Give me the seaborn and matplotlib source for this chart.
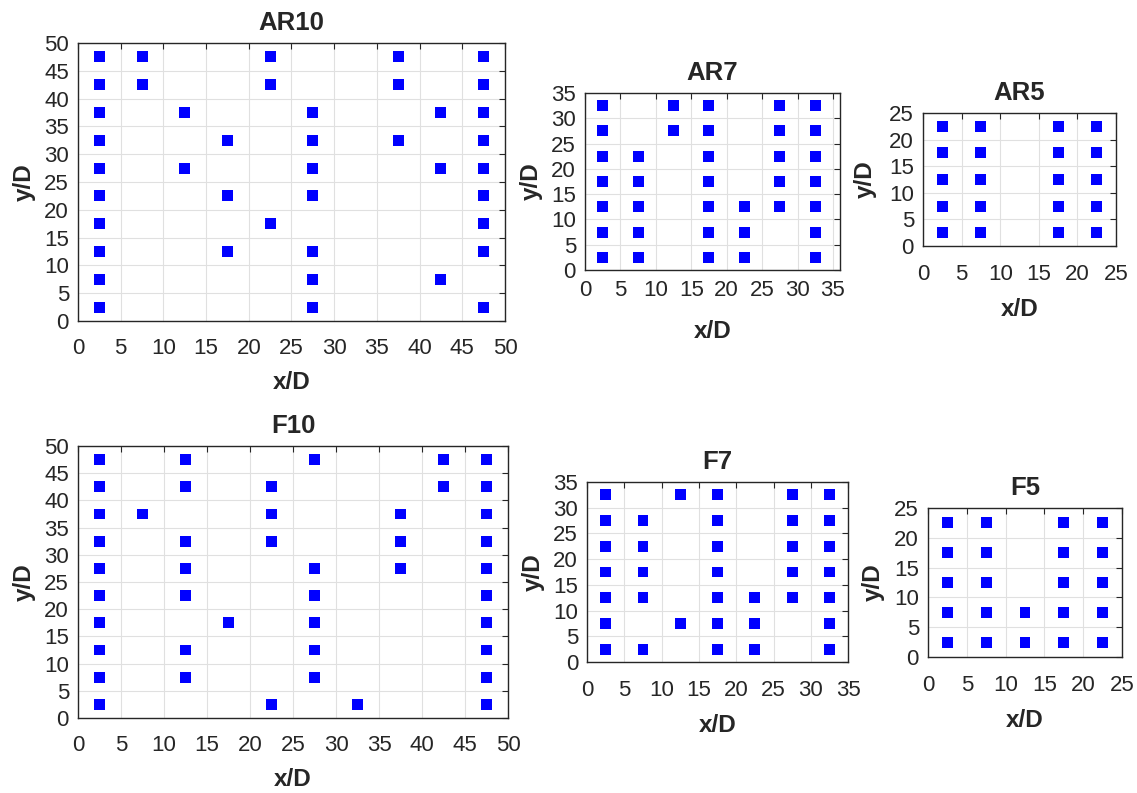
import numpy as np
import pandas as pd
import seaborn as sns
from matplotlib import pyplot as plt

# layouts: x position -> occupied y positions (in diameters)
AR10 = {2.5: [47.5, 42.5, 37.5, 32.5, 27.5, 22.5, 17.5, 12.5, 7.5, 2.5],
        7.5: [47.5, 42.5],
        12.5: [37.5, 27.5],
        17.5: [32.5, 22.5, 12.5],
        22.5: [47.5, 42.5, 17.5],
        27.5: [37.5, 32.5, 27.5, 22.5, 12.5, 7.5, 2.5],
        37.5: [47.5, 42.5, 32.5],
        42.5: [37.5, 27.5, 7.5],
        47.5: [47.5, 42.5, 37.5, 32.5, 27.5, 22.5, 17.5, 12.5, 2.5]}

AR7 = {2.5: [32.5, 27.5, 22.5, 17.5, 12.5, 7.5, 2.5],
       7.5: [22.5, 17.5, 12.5, 7.5, 2.5],
       12.5: [32.5, 27.5],
       17.5: [32.5, 27.5, 22.5, 17.5, 12.5, 7.5, 2.5],
       22.5: [12.5, 7.5, 2.5],
       27.5: [32.5, 27.5, 22.5, 17.5, 12.5],
       32.5: [32.5, 27.5, 22.5, 17.5, 12.5, 7.5, 2.5]}

AR5 = {2.5: [22.5, 17.5, 12.5, 7.5, 2.5],
       7.5: [22.5, 17.5, 12.5, 7.5, 2.5],
       17.5: [22.5, 17.5, 12.5, 7.5, 2.5],
       22.5: [22.5, 17.5, 12.5, 7.5, 2.5]}

F10 = {2.5: [47.5, 42.5, 37.5, 32.5, 27.5, 22.5, 17.5, 12.5, 7.5, 2.5],
       7.5: [37.5],
       12.5: [47.5, 42.5, 32.5, 27.5, 22.5, 12.5, 7.5],
       17.5: [17.5],
       22.5: [42.5, 37.5, 32.5, 2.5],
       27.5: [47.5, 27.5, 22.5, 17.5, 12.5, 7.5],
       32.5: [2.5],
       37.5: [37.5, 32.5, 27.5],
       42.5: [47.5, 42.5],
       47.5: [47.5, 42.5, 37.5, 32.5, 27.5, 22.5, 17.5, 12.5, 7.5, 2.5]}

F7 = {2.5: [32.5, 27.5, 22.5, 17.5, 12.5, 7.5, 2.5],
      7.5: [27.5, 22.5, 17.5, 12.5, 2.5],
      12.5: [32.5, 7.5],
      17.5: [32.5, 27.5, 22.5, 17.5, 12.5, 7.5, 2.5],
      22.5: [12.5, 7.5, 2.5],
      27.5: [32.5, 27.5, 22.5, 17.5, 12.5],
      32.5: [32.5, 27.5, 22.5, 17.5, 12.5, 7.5, 2.5]}

F5 = {2.5: [22.5, 17.5, 12.5, 7.5, 2.5],
      7.5: [22.5, 17.5, 12.5, 7.5, 2.5],
      12.5: [7.5, 2.5],
      17.5: [22.5, 17.5, 12.5, 7.5, 2.5],
      22.5: [22.5, 17.5, 12.5, 7.5, 2.5]}


def to_frame(layout):
    rows = [(x, y) for x, ys in layout.items() for y in ys]
    return pd.DataFrame(rows, columns=['x', 'y'])


sns.set_style('white')
plt.rcParams['font.family'] = ['Liberation Sans', 'DejaVu Sans']

fig = plt.figure(figsize=(11.37, 7.93), dpi=100)

# name, layout, [left, bottom, width, height], xmax, ymax, xtick pad, xlabelpad, ylabelpad
panels = [
    ('AR10', AR10, [0.0686, 0.5952, 0.3755, 0.3506], 50, 50, 12, 9, 6),
    ('AR7',  AR7,  [0.5145, 0.6595, 0.2243, 0.2232], 36, 35, 7, 14, 6),
    ('AR5',  AR5,  [0.8118, 0.6898, 0.1697, 0.1677], 25, 25, 13, 9, 9),
    ('F10',  F10,  [0.0686, 0.0946, 0.3782, 0.3430], 50, 50, 12, 9, 6),
    ('F7',   F7,   [0.5163, 0.1652, 0.2296, 0.2270], 35, 35, 13, 9, 6),
    ('F5',   F5,   [0.8162, 0.1715, 0.1706, 0.1879], 25, 25, 13, 9, 7),
]

for name, layout, pos, xmax, ymax, xpad, xlpad, ylpad in panels:
    ax = fig.add_axes(pos)
    df = to_frame(layout)
    sns.scatterplot(x='x', y='y', data=df, marker='s', s=62, color='#0000ff',
                    edgecolor='none', ax=ax, zorder=3)
    ax.set_xlim(0, xmax)
    ax.set_ylim(0, ymax)
    ax.set_xticks(np.arange(0, xmax + 0.1, 5))
    ax.set_yticks(np.arange(0, ymax + 0.1, 5))
    ax.grid(True, color='#e0e0e0', linewidth=0.8)
    ax.set_axisbelow(True)
    ax.tick_params(direction='in', length=4, width=0.8, top=True, right=True,
                   labelsize=16, colors='#262626')
    ax.tick_params(axis='x', pad=xpad)
    ax.tick_params(axis='y', pad=6.5)
    for sp in ax.spines.values():
        sp.set_color('#262626')
        sp.set_linewidth(1.0)
    ax.set_title(name, fontsize=18.5, fontweight='bold', pad=9.5)
    ax.set_xlabel('x/D', fontsize=17.5, fontweight='bold', color='#262626', labelpad=xlpad)
    ax.set_ylabel('y/D', fontsize=17.5, fontweight='bold', color='#262626', labelpad=ylpad)

fig.savefig('out.png', dpi=100)
plt.close(fig)
